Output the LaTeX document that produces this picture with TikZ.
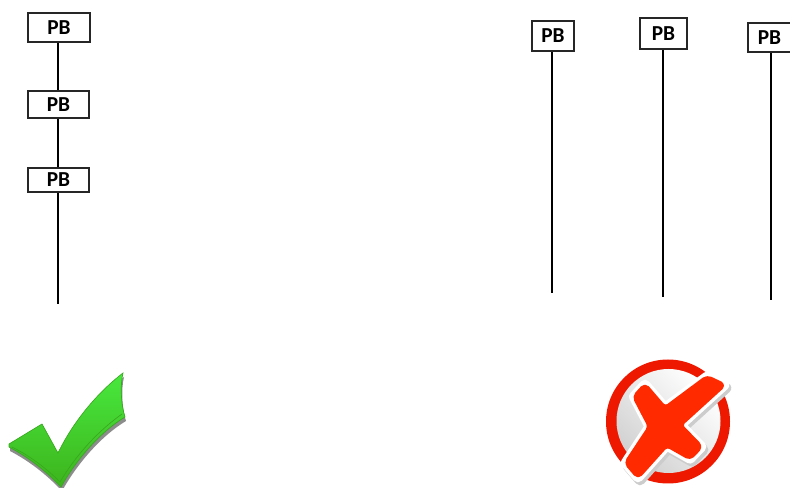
\documentclass[tikz,border=0pt]{standalone}
\usepackage{fontspec}
\setmainfont{Carlito}
\usetikzlibrary{positioning, arrows.meta, calc}

\definecolor{ticktop}{HTML}{48E83E}
\definecolor{tickbottom}{HTML}{3DB41C}
\definecolor{tickedge}{HTML}{38A81E}
\definecolor{crossred}{HTML}{FF2A00}
\definecolor{ringred}{HTML}{EE1800}

\newcommand{\tickshape}{(9,444) -- (42,424) -- (58,453)
    .. controls (73,422) and (97,393) .. (123,373)
    .. controls (120,385) and (121,405) .. (125,417)
    .. controls (100,432) and (76,460) .. (61,487)
    .. controls (45,470) and (28,457) .. (9,447) -- cycle}
\newcommand{\crossshape}{(707,377) -- (724,385) -- (680,425) -- (701,446.7) -- (690,458.3)
    -- (666.7,445) -- (638,477) -- (626,463) -- (650,426.7) -- (634.3,396.7)
    -- (645,385) -- (665,408.3) -- cycle}

\begin{document}
\begin{tikzpicture}[
  x=0.75pt, y=-0.75pt,
  font=\bfseries\fontsize{16}{18}\selectfont,
  % Box styles
  pbox/.style={draw=black!85, line width=1.5pt, fill=white, inner sep=0pt, text=black},
  % Line styles
  line/.style={draw, line width=1.4pt}
]
  \useasboundingbox (0,0) rectangle (790,488);

  % ==========================================
  % LEFT: PB IN SERIES
  % ==========================================
  \node[pbox, minimum width=46.5pt, minimum height=21.5pt] (pb_top) at (59,27.5) {PB};
  \node[pbox, minimum width=45.5pt, minimum height=20pt] (pb_mid) at (58.5,104.5) {PB};
  \node[pbox, minimum width=45.5pt, minimum height=18pt] (pb_low) at (58.5,180) {PB};
  \coordinate (end_left) at (58,304);

  \draw[line] (pb_top.south -| end_left) -- (pb_mid.north -| end_left);
  \draw[line] (pb_mid.south -| end_left) -- (pb_low.north -| end_left);
  \draw[line] (pb_low.south -| end_left) -- (end_left);

  % ==========================================
  % RIGHT: PB IN PARALLEL
  % ==========================================
  \node[pbox, minimum width=31pt, minimum height=22.5pt] (pb_a) at (553,36) {PB};
  \node[pbox, minimum width=35pt, minimum height=23pt] (pb_b) at (663.5,33.5) {PB};
  \node[pbox, minimum width=32pt, minimum height=21.5pt] (pb_c) at (769.5,37.5) {PB};
  \coordinate (end_a) at (552,293);
  \coordinate (end_b) at (663,297);
  \coordinate (end_c) at (771,300);

  \draw[line] (pb_a.south -| end_a) -- (end_a);
  \draw[line] (pb_b.south -| end_b) -- (end_b);
  \draw[line] (pb_c.south -| end_c) -- (end_c);

  % ==========================================
  % CHECK MARK
  % ==========================================
  \fill[black!45, shift={(1,4)}] \tickshape;
  \shade[top color=ticktop, bottom color=tickbottom] \tickshape;
  \draw[tickedge, line width=0.5pt] \tickshape;
  \draw[tickedge, line width=0.5pt] (12,447) .. controls (30,456) and (46,468) .. (60,482)
    .. controls (76,455) and (98,431) .. (122,414);

  % ==========================================
  % CROSS MARK
  % ==========================================
  \fill[ringred] (668,421.5) circle (62);
  \shade[top color=white, bottom color=black!18, shading angle=-45] (668.5,421) circle (52);
  % Sticker outline
  \draw[black!20, line width=8pt, line join=round, shift={(2,3)}] \crossshape;
  \draw[white, line width=8pt, line join=round] \crossshape;
  % Cross
  \fill[crossred, draw=crossred, line width=3pt, line join=round, rounded corners=3pt] \crossshape;
\end{tikzpicture}
\end{document}
